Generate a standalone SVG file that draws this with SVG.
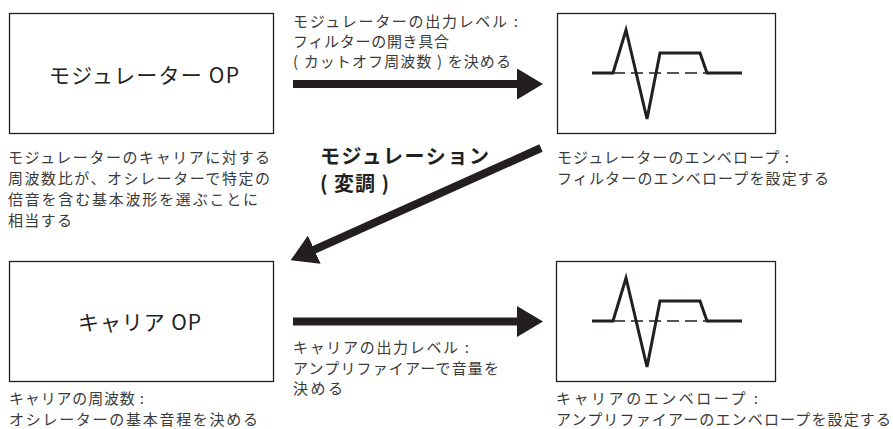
<svg xmlns="http://www.w3.org/2000/svg" width="893" height="429" viewBox="0 0 893 429">
<style>
.box{fill:#fff;stroke:#231f20;stroke-width:1.3}
.env{fill:none;stroke:#231f20;stroke-width:3;stroke-linejoin:miter}
.dash{fill:none;stroke:#231f20;stroke-width:1.4;stroke-dasharray:12 6}
.lbl{font-family:"Noto Sans CJK JP","Noto Sans",sans-serif;font-size:21px;fill:#231f20;font-weight:normal}
.t{font-family:"Noto Sans CJK JP","Noto Sans",sans-serif;font-size:15px;fill:#3a3a3a}
.mod{font-family:"Noto Sans CJK JP","Noto Sans",sans-serif;font-size:20px;fill:#231f20;font-weight:bold}
.arr{fill:none;stroke:#231f20;stroke-width:8;stroke-linecap:butt}
</style>
<defs>
<marker id="head" markerUnits="userSpaceOnUse" markerWidth="27" markerHeight="31" viewBox="0 0 27 31" refX="1" refY="15.5" orient="auto">
<path d="M0,0 L26,15.5 L0,31 Z" fill="#231f20"/>
</marker>
</defs>
<rect width="893" height="429" fill="#fff"/>

<g id="modulator">
<rect class="box" x="9.5" y="13.5" width="264" height="120"/>
<text class="lbl" x="49" y="83" textLength="190" lengthAdjust="spacing">モジュレーター OP</text>
<text class="t" x="8" y="163" textLength="262" lengthAdjust="spacing">モジュレーターのキャリアに対する</text>
<text class="t" x="8" y="184" textLength="262" lengthAdjust="spacing">周波数比が、オシレーターで特定の</text>
<text class="t" x="8" y="205" textLength="250" lengthAdjust="spacing">倍音を含む基本波形を選ぶことに</text>
<text class="t" x="8" y="226" textLength="64" lengthAdjust="spacing">相当する</text>
</g>

<g id="modEnvelope">
<rect class="box" x="557.5" y="13.5" width="218" height="120"/>
<path class="dash" d="M613,73 L707,73"/>
<path class="env" d="M592,73 L613,73 L626,30 L647,119 L660,53 L700,53 L707,73 L742,73"/>
<text class="t" x="557" y="163" textLength="232" lengthAdjust="spacing">モジュレーターのエンベロープ :</text>
<text class="t" x="557" y="184" textLength="272" lengthAdjust="spacing">フィルターのエンベロープを設定する</text>
</g>

<g id="carrier">
<rect class="box" x="9.5" y="261.5" width="264" height="120"/>
<text class="lbl" x="78" y="330" textLength="123" lengthAdjust="spacing">キャリア OP</text>
<text class="t" x="9" y="404" textLength="135" lengthAdjust="spacing">キャリアの周波数 :</text>
<text class="t" x="9" y="425" textLength="249" lengthAdjust="spacing">オシレーターの基本音程を決める</text>
</g>

<g id="carEnvelope">
<rect class="box" x="556.5" y="261.5" width="219" height="120"/>
<path class="dash" d="M613,321 L707,321"/>
<path class="env" d="M592,321 L613,321 L626,278 L647,367 L660,301 L700,301 L707,321 L742,321"/>
<text class="t" x="556" y="404" textLength="202" lengthAdjust="spacing">キャリアのエンベロープ :</text>
<text class="t" x="556" y="425" textLength="335" lengthAdjust="spacing">アンプリファイアーのエンベロープを設定する</text>
</g>

<g id="connectors">
<line class="arr" x1="293" y1="84" x2="518" y2="84" marker-end="url(#head)"/>
<line class="arr" x1="293" y1="321.5" x2="518" y2="321.5" marker-end="url(#head)"/>
<line class="arr" x1="541" y1="148" x2="313.4" y2="250.1" marker-end="url(#head)"/>
</g>

<g id="labels">
<text class="t" x="293" y="27" textLength="225" lengthAdjust="spacing">モジュレーターの出力レベル :</text>
<text class="t" x="293" y="47" textLength="156" lengthAdjust="spacing">フィルターの開き具合</text>
<text class="t" x="293" y="67" textLength="218" lengthAdjust="spacing">( カットオフ周波数 ) を決める</text>
<text class="mod" x="320" y="164" textLength="169" lengthAdjust="spacing">モジュレーション</text>
<text class="mod" x="320" y="191" textLength="69" lengthAdjust="spacing">( 変調 )</text>
<text class="t" x="293" y="353" textLength="176" lengthAdjust="spacing">キャリアの出力レベル :</text>
<text class="t" x="293" y="374" textLength="206" lengthAdjust="spacing">アンプリファイアーで音量を</text>
<text class="t" x="293" y="394" textLength="50" lengthAdjust="spacing">決める</text>
</g>
</svg>
